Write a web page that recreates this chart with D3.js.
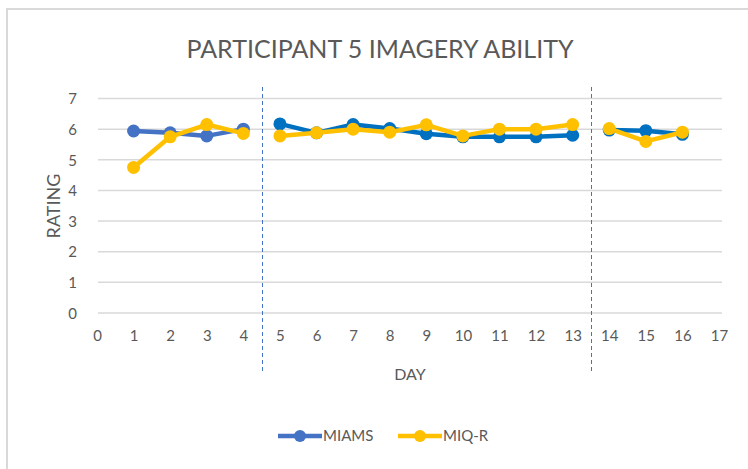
<!DOCTYPE html>
<html>
<head>
<meta charset="utf-8">
<script src="https://cdn.jsdelivr.net/npm/d3@7"></script>
<style>
  body { margin: 0; background: #fff; }
  text { font-family: Lato, "Open Sans", sans-serif; fill: #595959; }
</style>
</head>
<body>
<div id="chart"></div>
<script>
// chart data
const days = [1, 2, 3, 4, 5, 6, 7, 8, 9, 10, 11, 12, 13, 14, 15, 16];
const miams = [5.94, 5.88, 5.78, 6.0, 6.17, 5.88, 6.15, 6.02, 5.85, 5.75, 5.75, 5.75, 5.8, 5.97, 5.95, 5.83];
const miqr = [4.75, 5.75, 6.15, 5.86, 5.78, 5.88, 6.0, 5.9, 6.14, 5.78, 6.0, 6.0, 6.15, 6.02, 5.6, 5.9];
// the series are broken into phases
const phases = [[1, 4], [5, 13], [14, 16]];
const phaseBreaks = [4.5, 13.5];
const xTicks = d3.range(0, 18);
const yTicks = d3.range(0, 8);

const width = 748;
const height = 469;

const svg = d3
  .select("#chart")
  .append("svg")
  .attr("width", width)
  .attr("height", height);

// outer chart border
svg
  .append("rect")
  .attr("x", 7)
  .attr("y", 9)
  .attr("width", 760)
  .attr("height", 480)
  .attr("fill", "#fff")
  .attr("stroke", "#d9d9d9")
  .attr("stroke-width", 2);

// scales
const x = d3.scaleLinear().domain([0, 17]).range([97, 719]);
const y = d3.scaleLinear().domain([0, 7]).range([313, 98.5]);

// gridlines
svg
  .append("g")
  .selectAll("line")
  .data(yTicks)
  .enter()
  .append("line")
  .attr("x1", 98)
  .attr("x2", 722)
  .attr("y1", d => y(d))
  .attr("y2", d => y(d))
  .attr("stroke", "#d9d9d9")
  .attr("stroke-width", 1.5);

// y axis labels
const yAxis = d3
  .axisLeft(y)
  .tickValues(yTicks)
  .tickFormat(d3.format("d"))
  .tickSize(0)
  .tickPadding(0);
const yAxisGroup = svg
  .append("g")
  .attr("transform", "translate(77, 0)")
  .call(yAxis);
yAxisGroup.select(".domain").remove();
yAxisGroup
  .selectAll("text")
  .attr("font-size", 15)
  .attr("dy", "0.35em");

// x axis labels
const xAxis = d3.axisBottom(x).tickValues(xTicks).tickSize(0).tickPadding(0);
const xAxisGroup = svg
  .append("g")
  .attr("transform", "translate(0, 330)")
  .call(xAxis);
xAxisGroup.select(".domain").remove();
xAxisGroup
  .selectAll("text")
  .attr("font-size", 15)
  .attr("dy", "0.7em");

// phase separators
svg
  .append("g")
  .selectAll("line")
  .data(phaseBreaks)
  .enter()
  .append("line")
  .attr("x1", d => Math.round(x(d)) + 0.5)
  .attr("x2", d => Math.round(x(d)) + 0.5)
  .attr("y1", 87)
  .attr("y2", 371)
  .attr("stroke", "#4472c4")
  .attr("stroke-width", 1)
  .attr("stroke-dasharray", "4,3");

// series
const series = [
  { name: "MIAMS", values: miams, colors: ["#4472c4", "#0070c0", "#0070c0"] },
  { name: "MIQ-R", values: miqr, colors: ["#ffc000", "#ffc000", "#ffc000"] }
];

const line = d3
  .line()
  .x(d => x(d.day))
  .y(d => y(d.value));

series.forEach(s => {
  const pts = days.map((d, i) => ({ day: d, value: s.values[i] }));
  phases.forEach((p, k) => {
    const seg = pts.filter(d => d.day >= p[0] && d.day <= p[1]);
    const g = svg.append("g");
    g.append("path")
      .datum(seg)
      .attr("d", line)
      .attr("fill", "none")
      .attr("stroke", s.colors[k])
      .attr("stroke-width", 4.5)
      .attr("stroke-linejoin", "round");
    g.selectAll("circle")
      .data(seg)
      .enter()
      .append("circle")
      .attr("cx", d => x(d.day))
      .attr("cy", d => y(d.value))
      .attr("r", 6.5)
      .attr("fill", s.colors[k]);
  });
});

// title and axis titles
svg
  .append("text")
  .attr("x", 380)
  .attr("y", 58)
  .attr("text-anchor", "middle")
  .attr("font-size", 25)
  .text("PARTICIPANT 5 IMAGERY ABILITY");

svg
  .append("text")
  .attr("x", 410)
  .attr("y", 380)
  .attr("text-anchor", "middle")
  .attr("font-size", 16)
  .text("DAY");

svg
  .append("text")
  .attr("transform", "translate(60, 206) rotate(-90)")
  .attr("text-anchor", "middle")
  .attr("font-size", 18)
  .text("RATING");

// legend
const legend = svg
  .append("g")
  .selectAll("g")
  .data(series)
  .enter()
  .append("g")
  .attr("transform", (d, i) => `translate(${278 + i * 120}, 436)`);
legend
  .append("line")
  .attr("x1", 0)
  .attr("x2", 44)
  .attr("stroke", d => d.colors[0])
  .attr("stroke-width", 4.5);
legend
  .append("circle")
  .attr("cx", 22)
  .attr("r", 6)
  .attr("fill", d => d.colors[0]);
legend
  .append("text")
  .attr("x", 45)
  .attr("dy", "0.36em")
  .attr("font-size", 15)
  .text(d => d.name);
</script>
</body>
</html>
